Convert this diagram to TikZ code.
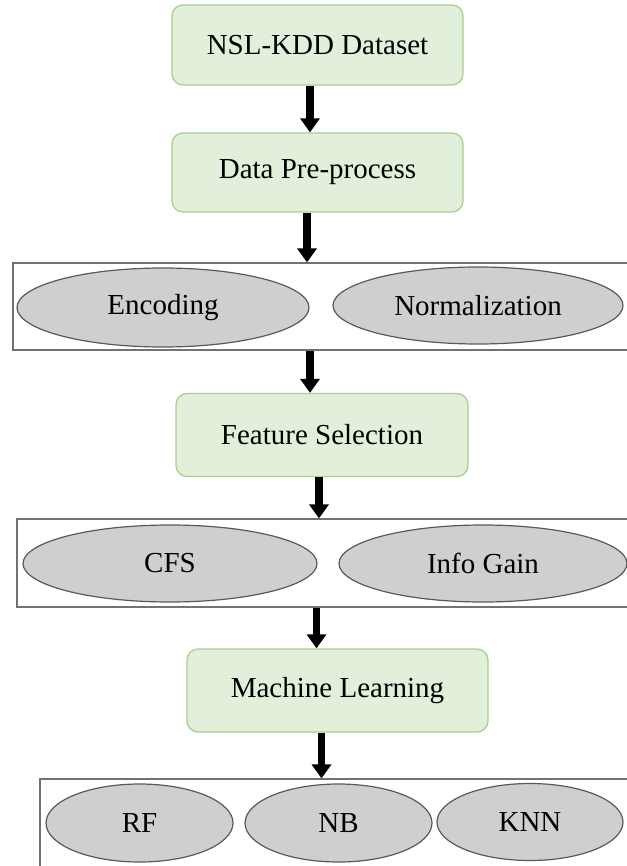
\documentclass[tikz,border=0pt]{standalone}
\usepackage{fontspec}
\setmainfont{Liberation Serif}
\usetikzlibrary{arrows.meta,shapes.geometric}
\definecolor{boxfill}{HTML}{E2EFDA}
\definecolor{boxline}{HTML}{A9D08E}
\definecolor{ellfill}{HTML}{D0CECE}
\definecolor{ellline}{HTML}{595959}
\definecolor{panelline}{HTML}{767171}
\tikzset{
  stepbox/.style={draw=boxline,fill=boxfill,line width=1.3pt,rounded corners=11pt,inner sep=0pt,
    font=\fontsize{29}{32}\selectfont},
  oval/.style={ellipse,draw=ellline,fill=ellfill,line width=1.2pt,inner sep=0pt,
    font=\fontsize{29}{32}\selectfont},
  panel/.style={draw=panelline,line width=1.2pt,inner sep=0pt},
  arr/.style={line width=7.5pt,-{Triangle[width=19pt,length=14pt]}}
}
\begin{document}
\begin{tikzpicture}[x=1pt,y=-1pt]
\useasboundingbox (0,0) rectangle (626,866);
% boxes
\node[stepbox,minimum width=291pt,minimum height=80pt] (b1) at (317.5,45) {NSL-KDD Dataset};
\node[stepbox,minimum width=291pt,minimum height=79pt] (b2) at (317.5,172.5) {Data Pre-process};
\node[stepbox,minimum width=292pt,minimum height=83pt] (b3) at (322,435) {Feature Selection};
\node[stepbox,minimum width=301pt,minimum height=83pt] (b4) at (337.5,690.5) {Machine Learning};
% panels
\node[panel,minimum width=630pt,minimum height=87pt] (p1) at (328,306.5) {};
\node[panel,minimum width=626pt,minimum height=88pt] (p2) at (330,563) {};
\node[panel,minimum width=610pt,minimum height=100pt] (p3) at (345,829) {};
% ellipses
\node[oval,minimum width=292pt,minimum height=79pt] (e1) at (163,307.5) {Encoding};
\node[oval,minimum width=290pt,minimum height=77pt] (e2) at (478,305.5) {Normalization};
\node[oval,minimum width=294pt,minimum height=77pt] (e3) at (170,563.5) {CFS};
\node[oval,minimum width=288pt,minimum height=77pt] (e4) at (483,563.5) {Info Gain};
\node[oval,minimum width=187pt,minimum height=78pt] (e5) at (139.5,823) {RF};
\node[oval,minimum width=187pt,minimum height=78pt] (e6) at (338.5,823) {NB};
\node[oval,minimum width=186pt,minimum height=77pt] (e7) at (530,822) {KNN};
% arrows
\draw[arr] ([xshift=-7.5pt]b1.south) -- ([xshift=-7.5pt]b1.south |- b2.north);
\draw[arr] ([xshift=-10.5pt]b2.south) -- ([xshift=-10.5pt]b2.south |- p1.north);
\draw[arr] ([xshift=-12pt]b3.north |- p1.south) -- ([xshift=-12pt]b3.north);
\draw[arr] ([xshift=-3pt]b3.south) -- ([xshift=-3pt]b3.south |- p2.north);
\draw[arr] ([xshift=-21pt]b4.north |- p2.south) -- ([xshift=-21pt]b4.north);
\draw[arr] ([xshift=-16pt]b4.south) -- ([xshift=-16pt]b4.south |- p3.north);
\end{tikzpicture}
\end{document}
